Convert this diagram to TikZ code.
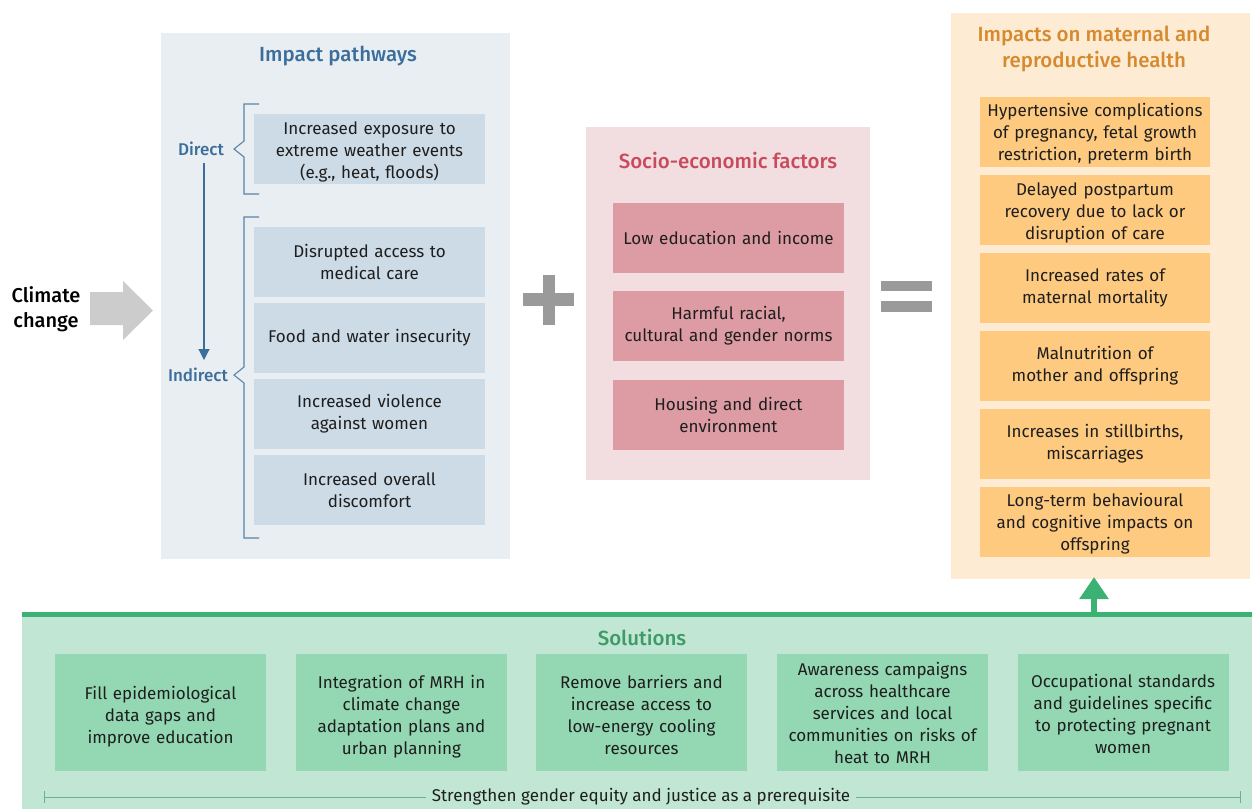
\documentclass[tikz,border=0pt]{standalone}
\usepackage{fontspec}
\setmainfont{Fira Sans}
\newfontfamily\medfont{Fira Sans Medium}
\usetikzlibrary{arrows.meta}
\definecolor{pathbg}{HTML}{E9EEF3}
\definecolor{pathbox}{HTML}{CDDBE6}
\definecolor{pathblue}{HTML}{3C6E9B}
\definecolor{socbg}{HTML}{F2DDE1}
\definecolor{socbox}{HTML}{DD9BA3}
\definecolor{soctitle}{HTML}{C94A5D}
\definecolor{impbg}{HTML}{FEEBD3}
\definecolor{impbox}{HTML}{FDCA80}
\definecolor{imptitle}{HTML}{D68A2E}
\definecolor{solbg}{HTML}{C1E7D4}
\definecolor{solbox}{HTML}{93D7B3}
\definecolor{solgreen}{HTML}{3BB273}
\definecolor{soltitle}{HTML}{3E9B67}
\definecolor{signgray}{HTML}{9A9A9A}
\definecolor{txt}{HTML}{1E1E1E}
\tikzset{
  txtfont/.style={font=\fontsize{17}{22}\selectfont, text=txt},
  pbox/.style={txtfont, fill=pathbox, minimum width=231, minimum height=70, text width=228, align=center, inner sep=0},
  sbox/.style={pbox, fill=socbox},
  ibox/.style={pbox, fill=impbox, minimum width=230},
  gbox/.style={pbox, fill=solbox, minimum width=211, minimum height=117, text width=210},
  ttl/.style={font=\medfont\fontsize{20.5}{26}\selectfont, align=center},
  lbl/.style={font=\medfont\fontsize{17}{22}\selectfont, text=pathblue},
  bracket/.style={draw=pathblue!85, line width=1.1},
  lower/.style={execute at begin node={\rule{0pt}{#1}}},
}
\begin{document}
\begin{tikzpicture}[x=1pt, y=-1pt]
\useasboundingbox (0,0) rectangle (1252,809);
% panels
\fill[pathbg] (161,33) rectangle (510,559);
\fill[socbg] (586,127) rectangle (870,480);
\fill[impbg] (951,13) rectangle (1250,579);
\fill[solbg] (22,612) rectangle (1252,809);
\fill[solgreen] (22,612) rectangle (1252,617);
% climate change
\node[font=\medfont\fontsize{20}{25}\selectfont, align=center] (cc) at (46,309) {Climate\\change};
\fill[black!20] (90,292) -- (123,292) -- (123,281) -- (153,310.5) -- (123,340) -- (123,325) -- (90,325) -- cycle;
% impact pathways
\node[ttl, text=pathblue] (pt) at (338,56) {Impact pathways};
\node[pbox, lower=19pt] (p1) at (369.5,149) {Increased exposure to\\extreme weather events\\(e.g., heat, floods)};
\node[pbox] (p2) at (369.5,262) {Disrupted access to\\medical care};
\node[pbox] (p3) at (369.5,338) {Food and water insecurity};
\node[pbox] (p4) at (369.5,414) {Increased violence\\against women};
\node[pbox] (p5) at (369.5,490) {Increased overall\\discomfort};
\node[lbl] (dir) at (201,149) {Direct};
\node[lbl] (ind) at (198,375) {Indirect};
\draw[bracket] (259,104) -- (244,104) -- (244,141) -- (234,149) -- (244,157) -- (244,194) -- (259,194);
\draw[bracket] (259,217) -- (244,217) -- (244,367) -- (234,375) -- (244,383) -- (244,538) -- (259,538);
\draw[draw=pathblue, line width=1.1, -{Triangle[width=11,length=11]}] (dir.south -| 204,0) ++(0,4) -- (204,360);
% plus and equals
\fill[signgray] (523,293) rectangle (574,306);
\fill[signgray] (543,275) rectangle (555,325);
\fill[signgray] (881,281) rectangle (932,291);
\fill[signgray] (881,301) rectangle (932,312);
% socio-economic factors
\node[ttl, text=soctitle] (st) at (728,160) {Socio-economic factors};
\node[sbox] (s1) at (728.5,238) {Low education and income};
\node[sbox] (s2) at (728.5,326) {Harmful racial,\\cultural and gender norms};
\node[sbox] (s3) at (728.5,415) {Housing and direct\\environment};
% impacts
\node[ttl, text=imptitle] (it) at (1094,49) {Impacts on maternal and\\reproductive health};
\node[ibox, lower=16pt] (i1) at (1095,132) {Hypertensive complications\\of pregnancy, fetal growth\\restriction, preterm birth};
\node[ibox, lower=18pt] (i2) at (1095,210) {Delayed postpartum\\recovery due to lack or\\disruption of care};
\node[ibox] (i3) at (1095,288) {Increased rates of\\maternal mortality};
\node[ibox] (i4) at (1095,366) {Malnutrition of\\mother and offspring};
\node[ibox] (i5) at (1095,444) {Increases in stillbirths,\\miscarriages};
\node[ibox, lower=16pt] (i6) at (1095,522) {Long-term behavioural\\and cognitive impacts on\\offspring};
\coordinate (itop) at (1094,577);
\coordinate (sbot) at (1094,613);
\draw[solgreen, line width=6, -{Triangle[width=28,length=22]}] (sbot) -- (itop);
% solutions
\node[ttl, text=soltitle] (so) at (642,637) {Solutions};
\node[gbox, lower=22pt] (g1) at (160.5,712.5) {Fill epidemiological\\data gaps and\\improve education};
\node[gbox, lower=22pt] (g2) at (401.5,712.5) {Integration of MRH in\\climate change\\adaptation plans and\\urban planning};
\node[gbox, lower=19pt] (g3) at (641.5,712.5) {Remove barriers and\\increase access to\\low-energy cooling\\resources};
\node[gbox] (g4) at (882.5,712.5) {Awareness campaigns\\across healthcare\\services and local\\communities on risks of\\heat to MRH};
\node[gbox, lower=16pt] (g5) at (1123,712.5) {Occupational standards\\and guidelines specific\\to protecting pregnant\\women};
\node[txtfont, fill=solbg, inner xsep=6, inner ysep=1] (eq) at (641,797) {Strengthen gender equity and justice as a prerequisite};
\coordinate (eqL) at (44,797);
\coordinate (eqR) at (1240,797);
\draw[solgreen!80!black!70, line width=0.8] (eqL) -- (eq.west) (eq.east) -- (eqR);
\draw[solgreen!80!black!70, line width=0.8] (44,791) -- (44,803) (1240,791) -- (1240,803);
\end{tikzpicture}
\end{document}
